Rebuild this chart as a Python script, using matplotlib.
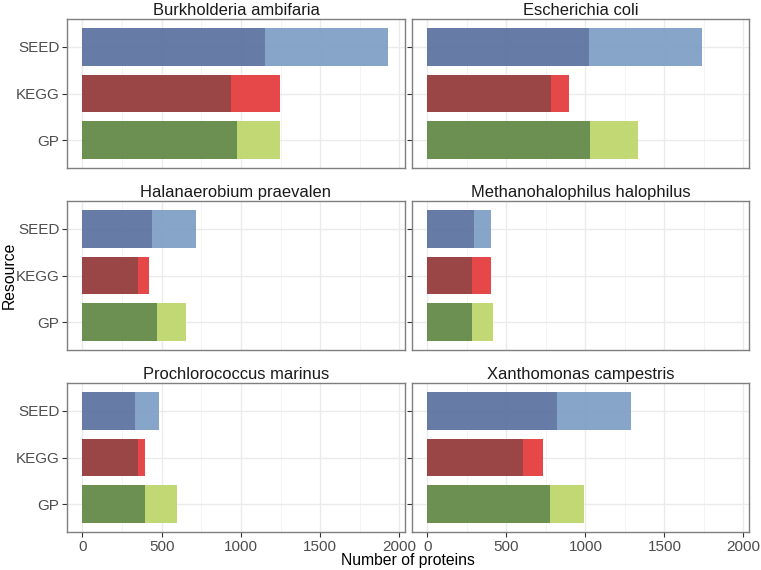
import matplotlib
matplotlib.use("Agg")
import matplotlib.pyplot as plt
import numpy as np

plt.rcParams['font.family'] = ['Liberation Sans', 'DejaVu Sans']

species = ["Burkholderia ambifaria", "Escherichia coli", "Halanaerobium praevalen",
           "Methanohalophilus halophilus", "Prochlorococcus marinus", "Xanthomonas campestris"]
resources = ["GP", "KEGG", "SEED"]

# dark portion (first segment) and total length per resource [GP, KEGG, SEED]
dark_vals = {
    "Burkholderia ambifaria": [973, 937, 1150],
    "Escherichia coli": [1032, 781, 1020],
    "Halanaerobium praevalen": [472, 348, 436],
    "Methanohalophilus halophilus": [285, 283, 297],
    "Prochlorococcus marinus": [398, 348, 335],
    "Xanthomonas campestris": [779, 607, 819],
}
total_vals = {
    "Burkholderia ambifaria": [1247, 1247, 1928],
    "Escherichia coli": [1332, 894, 1738],
    "Halanaerobium praevalen": [652, 419, 715],
    "Methanohalophilus halophilus": [415, 402, 402],
    "Prochlorococcus marinus": [597, 394, 486],
    "Xanthomonas campestris": [988, 731, 1286],
}
dark_colors = ["#648A48", "#953B3C", "#5E74A0"]
light_colors = ["#BED66E", "#E53D3F", "#819FC6"]

W, H = 761, 570
fig = plt.figure(figsize=(W/100, H/100), dpi=100)

col_x = [(67, 405), (412, 749)]
row_y = [(19, 168), (201, 350), (383, 532)]

for i, sp in enumerate(species):
    r, c = divmod(i, 2)
    x0, x1 = col_x[c]
    yt, yb = row_y[r]
    ax = fig.add_axes([x0/W, 1 - yb/H, (x1-x0)/W, (yb-yt)/H])
    ypos = np.arange(len(resources))
    d = np.array(dark_vals[sp])
    t = np.array(total_vals[sp])
    ax.barh(ypos, d, height=0.8, color=dark_colors, alpha=0.95, zorder=3)
    ax.barh(ypos, t - d, left=d, height=0.8, color=light_colors, alpha=0.95, zorder=3)
    ax.set_xlim(-97, 2035)
    ax.set_ylim(-0.6, 2.6)
    ax.set_xticks([0, 500, 1000, 1500, 2000])
    ax.set_xticks([250, 750, 1250, 1750], minor=True)
    ax.set_yticks(ypos)
    ax.grid(True, which='major', color='#EBEBEB', linewidth=1.0, zorder=0)
    ax.grid(True, which='minor', axis='x', color='#F2F2F2', linewidth=0.6, zorder=0)
    ax.set_axisbelow(True)
    for s in ax.spines.values():
        s.set_color('#7F7F7F')
        s.set_linewidth(1.0)
    ax.tick_params(which='minor', length=0)
    ax.tick_params(which='major', color='#333333', length=3.5, width=0.8,
                   labelsize=11, labelcolor='#4D4D4D', pad=2)
    if c == 0:
        ax.set_yticklabels(resources)
    else:
        ax.set_yticklabels([])
        ax.tick_params(axis='y', length=3.5)
    if r == 2:
        ax.set_xticklabels(["0", "500", "1000", "1500", "2000"])
    else:
        ax.set_xticklabels([])
        ax.tick_params(axis='x', length=0)
    ax.set_title(sp, fontsize=11.9, color='#1A1A1A', pad=3)

fig.text(408/W, 1 - 561/H, "Number of proteins", ha='center', va='center', fontsize=11.3, color='black')
fig.text(9/W, 1 - 275/H, "Resource", ha='center', va='center', rotation=90, fontsize=11.3, color='black')

fig.savefig("out.png", dpi=100)
